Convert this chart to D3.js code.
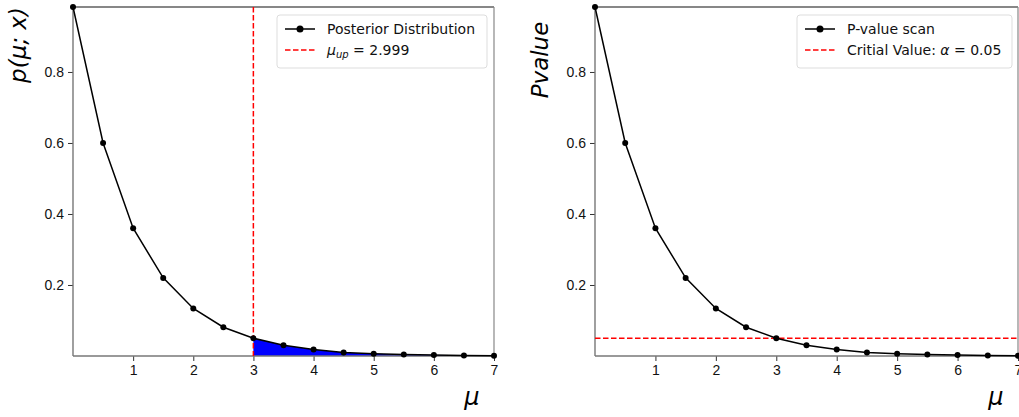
<!DOCTYPE html>
<html>
<head>
<meta charset="utf-8">
<script src="https://cdn.jsdelivr.net/npm/d3@7"></script>
<style>
  body { margin: 0; background: #fff; }
  svg { font-family: "DejaVu Sans", sans-serif; }
  .tick text { font-size: 14px; fill: #111; }
</style>
</head>
<body>
<svg id="chart" width="1019" height="417"></svg>
<script>
// values
const mu = [0, 0.5, 1, 1.5, 2, 2.5, 3, 3.5, 4, 4.5, 5, 5.5, 6, 6.5, 7];
const posterior = [0.983, 0.600, 0.360, 0.220, 0.134, 0.081, 0.050, 0.030, 0.018, 0.010, 0.0065, 0.004, 0.0025, 0.0015, 0.0009];
const pvalues = [0.983, 0.600, 0.360, 0.220, 0.134, 0.081, 0.050, 0.030, 0.018, 0.010, 0.0065, 0.004, 0.0025, 0.0015, 0.0009];
const muUp = 2.999;
const alpha = 0.05;
const xTicks = [1, 2, 3, 4, 5, 6, 7];
const yTicks = [0.2, 0.4, 0.6, 0.8];

const svg = d3.select("#chart");

function panel(left, right, ylab, ylabY) {
  const top = 7, bottom = 356;
  const x = d3.scaleLinear().domain([0, 7]).range([left, right]);
  const y = d3.scaleLinear().domain([0, 0.983]).range([bottom, top]);
  const g = svg.append("g");

  // ticks
  g.append("g")
    .attr("transform", `translate(0,${bottom})`)
    .call(d3.axisBottom(x).tickValues(xTicks).tickFormat(d3.format("d")).tickSize(5).tickPadding(4))
    .call(a => a.select(".domain").remove())
    .call(a => a.selectAll("line").attr("stroke", "#333"));
  g.append("g")
    .attr("transform", `translate(${left},0)`)
    .call(d3.axisLeft(y).tickValues(yTicks).tickFormat(d3.format(".1f")).tickSize(5).tickPadding(4))
    .call(a => a.select(".domain").remove())
    .call(a => a.selectAll("line").attr("stroke", "#333"));

  // frame: top/right dark, left/bottom gray
  g.append("line").attr("x1", left).attr("x2", right).attr("y1", top).attr("y2", top).attr("stroke", "#111").attr("stroke-width", 1.2);
  g.append("line").attr("x1", right).attr("x2", right).attr("y1", top).attr("y2", bottom).attr("stroke", "#888").attr("stroke-width", 1.2);

  g.append("text")
    .attr("transform", `translate(${left - 47},${ylabY}) rotate(-90)`)
    .attr("text-anchor", "middle")
    .style("font-size", "23px").style("font-style", "italic")
    .text(ylab);

  g.append("text")
    .attr("x", right - 22).attr("y", 405)
    .attr("text-anchor", "middle")
    .style("font-size", "24px").style("font-style", "italic")
    .text("μ");

  return { g, x, y, top, bottom, left, right };
}

function curve(p, data) {
  const line = d3.line().x((d, i) => p.x(mu[i])).y(d => p.y(d));
  p.g.append("path").datum(data)
    .attr("d", line).attr("fill", "none").attr("stroke", "#000").attr("stroke-width", 1.5);
  p.g.selectAll(".dot" + p.left).data(data).enter().append("circle")
    .attr("cx", (d, i) => p.x(mu[i])).attr("cy", d => p.y(d)).attr("r", 3).attr("fill", "#000");
}

function spines(p) {
  p.g.append("line").attr("x1", p.left).attr("x2", p.left).attr("y1", p.top).attr("y2", p.bottom).attr("stroke", "#777").attr("stroke-width", 1.4);
  p.g.append("line").attr("x1", p.left).attr("x2", p.right).attr("y1", p.bottom).attr("y2", p.bottom).attr("stroke", "#777").attr("stroke-width", 1.4);
}

function legend(p, x0, w) {
  const lg = p.g.append("g").attr("transform", `translate(${x0},15)`);
  lg.append("rect").attr("width", w).attr("height", 53).attr("rx", 3)
    .attr("fill", "#fff").attr("stroke", "#ddd");
  lg.append("line").attr("x1", 8).attr("x2", 38).attr("y1", 14).attr("y2", 14).attr("stroke", "#000").attr("stroke-width", 1.5);
  lg.append("circle").attr("cx", 23).attr("cy", 14).attr("r", 3.5).attr("fill", "#000");
  lg.append("line").attr("x1", 8).attr("x2", 38).attr("y1", 35).attr("y2", 35).attr("stroke", "red").attr("stroke-width", 1.5).attr("stroke-dasharray", "5.5,2.5");
  const t1 = lg.append("text").attr("x", 50).attr("y", 19).style("font-size", "14px").attr("fill", "#111");
  const t2 = lg.append("text").attr("x", 50).attr("y", 40).style("font-size", "14px").attr("fill", "#111");
  return [t1, t2];
}

// left panel: posterior
const L = panel(73, 494, "p(μ; x)", 45);
const tail = mu.map((m, i) => [m, posterior[i]]).filter(d => d[0] >= 3);
tail.unshift([muUp, posterior[6]]);
L.g.append("path").datum(tail)
  .attr("d", d3.area().x(d => L.x(d[0])).y0(L.y(0)).y1(d => L.y(d[1])))
  .attr("fill", "#0000ff");
spines(L);
L.g.append("line")
  .attr("x1", L.x(muUp)).attr("x2", L.x(muUp)).attr("y1", L.top).attr("y2", L.bottom)
  .attr("stroke", "red").attr("stroke-width", 1.5).attr("stroke-dasharray", "5.5,2.5");
curve(L, posterior);
const [a1, a2] = legend(L, 277, 210);
a1.text("Posterior Distribution");
a2.append("tspan").style("font-style", "italic").text("μ");
a2.append("tspan").style("font-style", "italic").style("font-size", "10px").attr("dy", 3).text("up");
a2.append("tspan").attr("dy", -3).text(" = 2.999");

// right panel: p-value scan
const R = panel(595, 1018, "Pvalue", 60);
spines(R);
R.g.append("line")
  .attr("x1", R.left).attr("x2", R.right).attr("y1", R.y(alpha)).attr("y2", R.y(alpha))
  .attr("stroke", "red").attr("stroke-width", 1.5).attr("stroke-dasharray", "5.5,2.5");
curve(R, pvalues);
const [b1, b2] = legend(R, 797, 215);
b1.text("P-value scan");
b2.append("tspan").text("Critial Value: ");
b2.append("tspan").style("font-style", "italic").text("α");
b2.append("tspan").text(" = 0.05");
</script>
</body>
</html>
